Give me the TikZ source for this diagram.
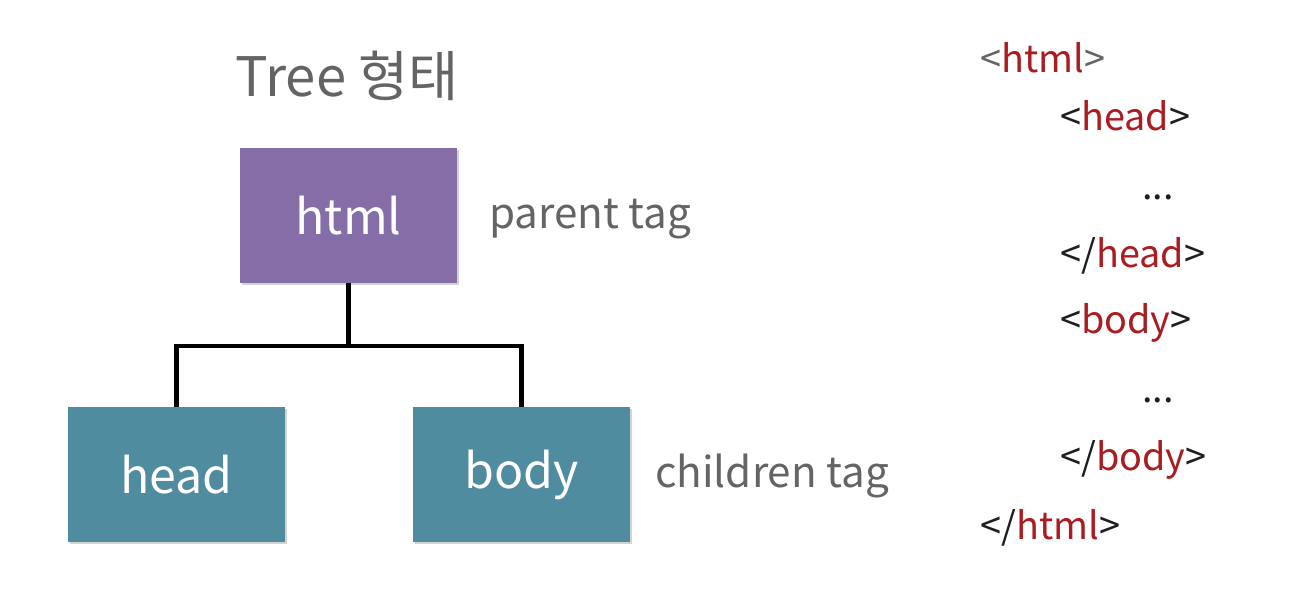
\documentclass[tikz,border=0pt]{standalone}
\usepackage{fontspec}
\setmainfont{Noto Sans CJK KR}
\usepackage{xcolor}
\usepackage{tikz}
\usetikzlibrary{positioning,shadows}
\definecolor{parentpurple}{RGB}{133,110,168}
\definecolor{childteal}{RGB}{80,140,160}
\definecolor{labelgray}{RGB}{100,100,100}
\definecolor{tagred}{RGB}{170,28,32}
\definecolor{tagdark}{RGB}{30,30,30}

\newcommand{\tagname}[1]{\textcolor{tagred}{#1}}

\begin{document}
\begin{tikzpicture}[x=0.02cm,y=-0.02cm,
    tagbox/.style={minimum width=4.34cm,minimum height=2.7cm,inner sep=0pt,
      text=white,font=\fontsize{27.5}{33}\selectfont,
      drop shadow={opacity=0.35,shadow xshift=1.2pt,shadow yshift=-1.2pt}},
    sidelabel/.style={anchor=west,text=labelgray,font=\fontsize{24}{29}\selectfont},
    codeline/.style={anchor=base west,inner sep=0pt,text=tagdark,font=\fontsize{21.5}{26}\selectfont}]
                \useasboundingbox (0,0) rectangle (1312,590);
                % Title
                \node[text=labelgray,font=\fontsize{31}{37}\selectfont] (title) at (347,76) {Tree 형태};
                % Tree boxes
                \node[tagbox,fill=parentpurple] (html) at (348.5,215.5) {html};
                \node[tagbox,fill=childteal] (head) at (176.5,474.5) {head};
                \node[tagbox,fill=childteal] (body) at (521.5,474.5) {body};
                \node[sidelabel] (parent) at (483,219) {parent tag};
                \node[sidelabel] (children) at (649,476) {children tag};
                % Connectors
                \coordinate (split) at (348.5,346);
                \draw[line width=2.8pt] (html.south) -- (split);
                \draw[line width=2.8pt] (head.north) |- (split) -| (body.north);
                % Code
                \node[codeline] (c1) at (980,73) {\textcolor{labelgray}{<}\tagname{html}\textcolor{labelgray}{>}};
                \node[codeline] (c2) at (1060,131) {<\tagname{head}>};
                \node[codeline] (c3) at (1142,200) {...};
                \node[codeline] (c4) at (1060,268) {</\tagname{head}>};
                \node[codeline] (c5) at (1060,334) {<\tagname{body}>};
                \node[codeline] (c6) at (1142,403) {...};
                \node[codeline] (c7) at (1060,471) {</\tagname{body}>};
                \node[codeline] (c8) at (980,540) {</\tagname{html}>};
            \end{tikzpicture}
\end{document}
